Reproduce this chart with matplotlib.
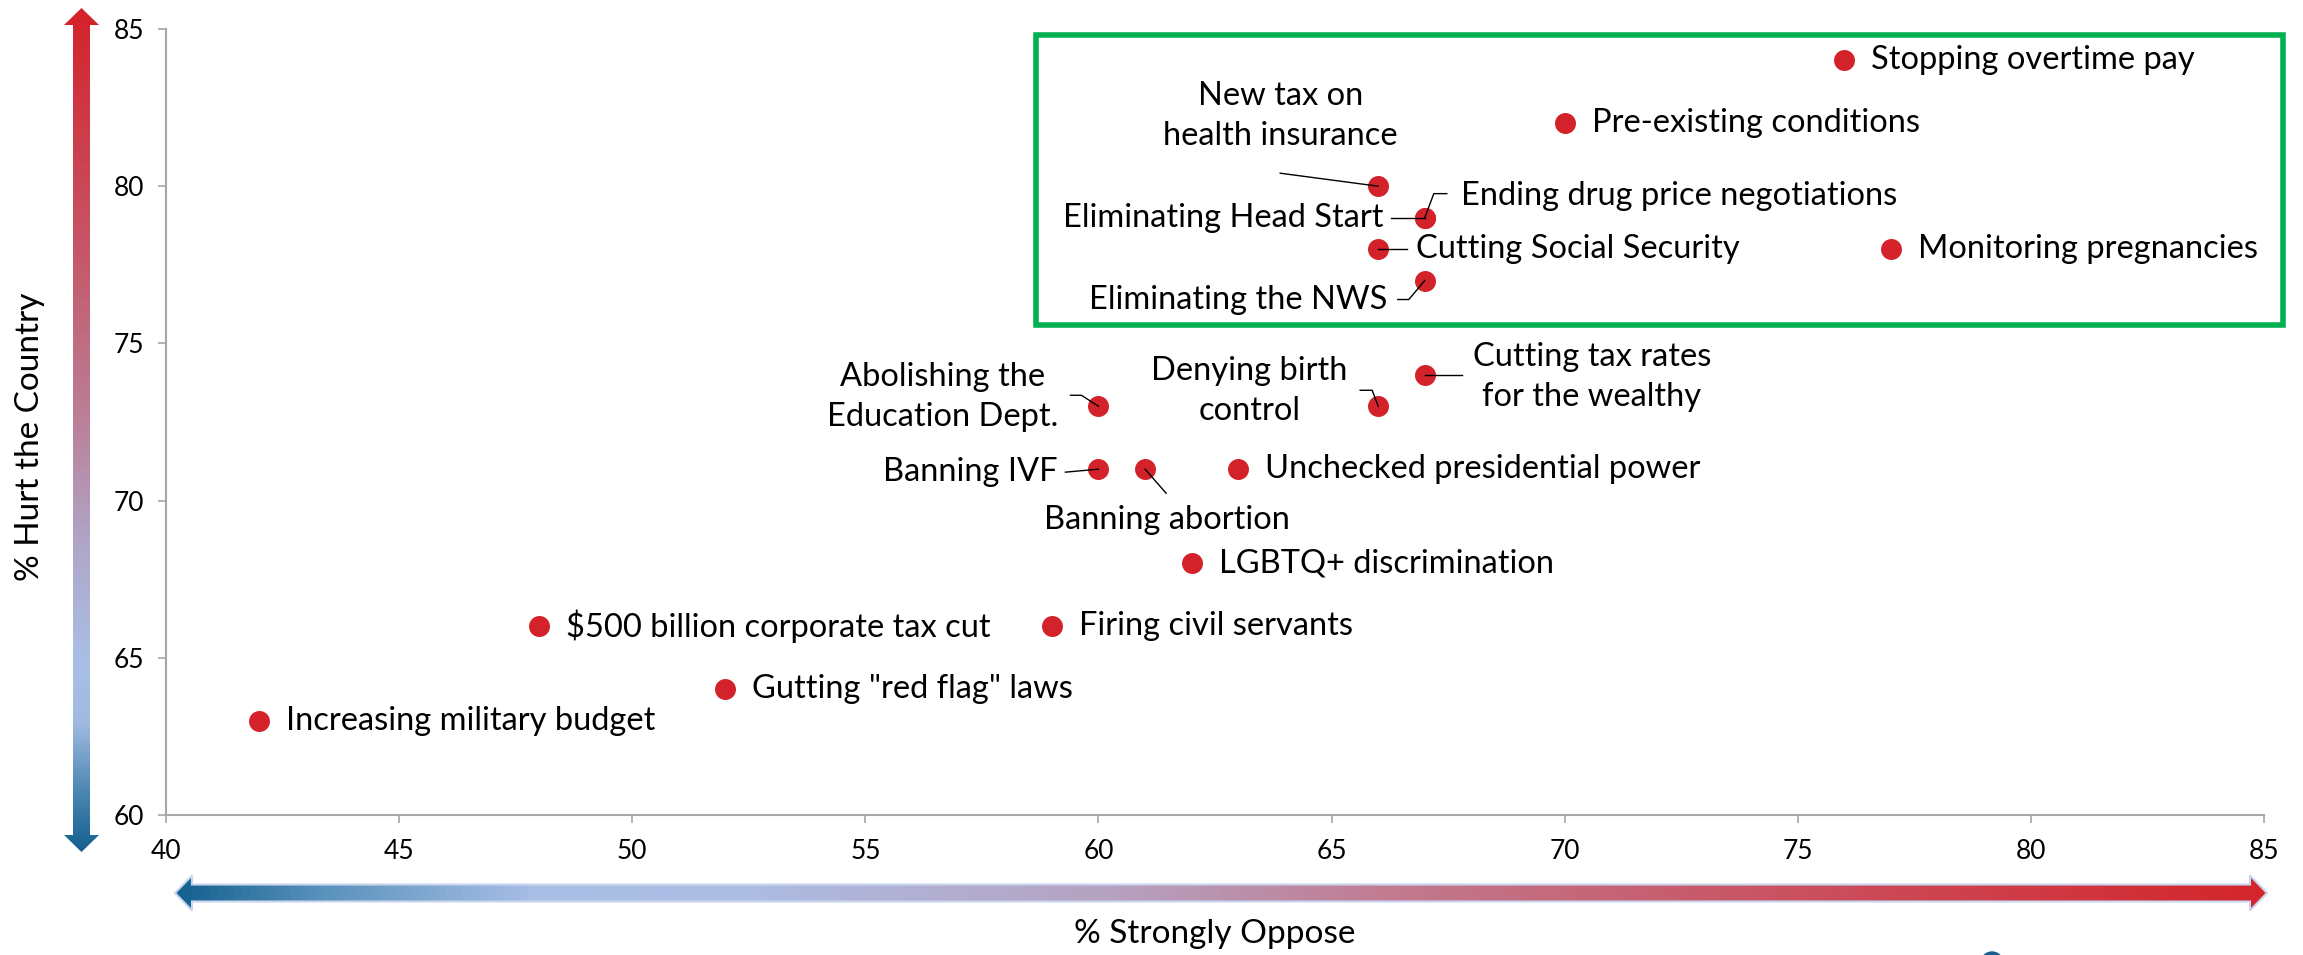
import matplotlib
matplotlib.use('Agg')
import matplotlib.pyplot as plt
import matplotlib.transforms as mtransforms
from matplotlib.colors import LinearSegmentedColormap
from matplotlib.patches import Polygon, Rectangle, Circle
from matplotlib.lines import Line2D
import numpy as np

# данные: политика, % "strongly oppose", % "hurt the country"
policies = [
    'Stopping overtime pay',
    'Pre-existing conditions',
    'New tax on\nhealth insurance',
    'Ending drug price negotiations',
    'Eliminating Head Start',
    'Cutting Social Security',
    'Eliminating the NWS',
    'Monitoring pregnancies',
    'Cutting tax rates\nfor the wealthy',
    'Denying birth\ncontrol',
    'Abolishing the\nEducation Dept.',
    'Banning IVF',
    'Banning abortion',
    'Unchecked presidential power',
    'LGBTQ+ discrimination',
    '$500 billion corporate tax cut',
    'Firing civil servants',
    'Gutting "red flag" laws',
    'Increasing military budget',
]
strongly_oppose = [76, 70, 66, 67, 67, 66, 67, 77, 67, 66, 60, 60, 61, 63, 62, 48, 59, 52, 42]
hurt_country = [84, 82, 80, 79, 79, 78, 77, 78, 74, 73, 73, 71, 71, 71, 68, 66, 66, 64, 63]

x_ticks = [40, 45, 50, 55, 60, 65, 70, 75, 80, 85]
y_ticks = [60, 65, 70, 75, 80, 85]

# раскладка подписей (пиксели, y вниз): dx, dy, ha, выноска
right_default = (27, 0, 'left', None)
label_layout = {
    'New tax on\nhealth insurance': (-98, -70, 'center', [(-98, -13), (0, 0)]),
    'Ending drug price negotiations': (36, -22, 'left', [(0, 0), (9, -24), (22, -24)]),
    'Eliminating Head Start': (-41, 0, 'right', [(-34, 0), (0, 0)]),
    'Cutting Social Security': (38, 0, 'left', [(0, 0), (29, 0)]),
    'Eliminating the NWS': (-37, 19, 'right', [(-27, 19), (-16, 19), (0, 0)]),
    'Cutting tax rates\nfor the wealthy': (167, 2, 'center', [(0, 0), (37, 0)]),
    'Denying birth\ncontrol': (-129, -15, 'center', [(-18, -16), (-6, -16), (0, 0)]),
    'Abolishing the\nEducation Dept.': (-156, -9, 'center', [(-28, -11), (-17, -11), (0, 0)]),
    'Banning IVF': (-41, 3, 'right', [(-33, 3), (0, 0)]),
    'Banning abortion': (22, 51, 'center', [(0, 0), (21, 24)]),
}

W, H = 2303, 955
RED = '#d3222a'
plt.rcParams['font.family'] = ['Lato', 'DejaVu Sans']

fig = plt.figure(figsize=(W / 100, H / 100), dpi=100)
fig.patch.set_facecolor('white')

# фоновая ось в пикселях для градиентных стрелок
bg = fig.add_axes([0, 0, 1, 1], zorder=0)
bg.set_xlim(0, W)
bg.set_ylim(H, 0)
bg.axis('off')

v_cmap = LinearSegmentedColormap.from_list('v', [
    (0.0, '#d4222a'), (0.28, '#c65566'), (0.49, '#bb8098'), (0.64, '#afa7c9'),
    (0.78, '#a9bfe6'), (0.85, '#a0bae0'), (0.93, '#4d88b3'), (1.0, '#15608f')])
h_cmap = LinearSegmentedColormap.from_list('h', [
    (0.0, '#15618f'), (0.07, '#5b93bd'), (0.17, '#a9bfe6'), (0.27, '#adbde3'),
    (0.45, '#b6a1c0'), (0.585, '#c27a8f'), (0.8, '#cb4c5a'), (1.0, '#d4252b')])

# вертикальная стрелка
vx, vy0, vy1, sw, hw, hl = 81.5, 8, 852, 8.5, 17.5, 17
v_pts = [(vx, vy0), (vx + hw, vy0 + hl), (vx + sw, vy0 + hl), (vx + sw, vy1 - hl),
         (vx + hw, vy1 - hl), (vx, vy1), (vx - hw, vy1 - hl), (vx - sw, vy1 - hl),
         (vx - sw, vy0 + hl), (vx - hw, vy0 + hl)]
v_poly = Polygon(v_pts, closed=True, facecolor='none', edgecolor='none')
bg.add_patch(v_poly)
img = bg.imshow(np.linspace(0, 1, 256).reshape(-1, 1), cmap=v_cmap, aspect='auto',
                extent=(vx - hw, vx + hw, vy1, vy0), interpolation='bilinear')
img.set_clip_path(v_poly)

# горизонтальная стрелка
hy, hx0, hx1 = 893, 175, 2267
h_pts = [(hx0, hy), (hx0 + hl, hy - hw), (hx0 + hl, hy - sw), (hx1 - hl, hy - sw),
         (hx1 - hl, hy - hw), (hx1, hy), (hx1 - hl, hy + hw), (hx1 - hl, hy + sw),
         (hx0 + hl, hy + sw), (hx0 + hl, hy + hw)]
h_poly = Polygon(h_pts, closed=True, facecolor='none', edgecolor='#c9d5ee', lw=1.5, zorder=3)
bg.add_patch(h_poly)
img2 = bg.imshow(np.linspace(0, 1, 512).reshape(1, -1), cmap=h_cmap, aspect='auto',
                 extent=(hx0, hx1, hy + hw, hy - hw), interpolation='bilinear')
img2.set_clip_path(h_poly)

bg.add_patch(Circle((1992, 963), 11, color='#15608f'))

# основная ось
ax = fig.add_axes([166 / W, 1 - 815 / H, (2264 - 166) / W, (815 - 29) / H], zorder=1)
ax.patch.set_alpha(0)
ax.set_xlim(40, 85)
ax.set_ylim(60, 85)
ax.set_xticks(x_ticks)
ax.set_yticks(y_ticks)
for side in ['top', 'right']:
    ax.spines[side].set_visible(False)
for side in ['left', 'bottom']:
    ax.spines[side].set_color('#a6a6a6')
    ax.spines[side].set_linewidth(1.5)
ax.tick_params(direction='out', length=6, width=1.2, color='#a6a6a6', labelsize=19)
ax.tick_params(axis='x', pad=11)
ax.tick_params(axis='y', pad=10)

ax.set_ylabel('% Hurt the Country', fontsize=24)
ax.yaxis.set_label_coords(-(166 - 30) / (2264 - 166), (815 - 437) / (815 - 29))
ax.set_xlabel('% Strongly Oppose', fontsize=24)
ax.xaxis.set_label_coords(0.5, -(934 - 815) / (815 - 29))
ax.xaxis.label.set_va('center')
ax.yaxis.label.set_va('center')

# зелёная рамка вокруг верхнего кластера
ax.add_patch(Rectangle((58.66, 75.58), 85.41 - 58.66, 84.81 - 75.58, fill=False,
                       edgecolor='#00b050', lw=4, clip_on=False, zorder=2))

ax.scatter(strongly_oppose, hurt_country, s=228, color=RED, linewidths=0, zorder=3, clip_on=False)

for name, x, y in zip(policies, strongly_oppose, hurt_country):
    dx, dy, ha, leader = label_layout.get(name, right_default)
    ax.annotate(name, xy=(x, y), xytext=(dx, -dy), textcoords='offset pixels',
                ha=ha, va='center', multialignment='center', fontsize=23.5,
                color='black', linespacing=1.4, zorder=5)
    if leader:
        tr = mtransforms.Affine2D().scale(1, -1) + mtransforms.ScaledTranslation(x, y, ax.transData)
        lx, ly = zip(*leader)
        ax.add_line(Line2D(lx, ly, transform=tr, color='black', lw=1.0, zorder=4, clip_on=False))

fig.savefig('out.png', dpi=100)
